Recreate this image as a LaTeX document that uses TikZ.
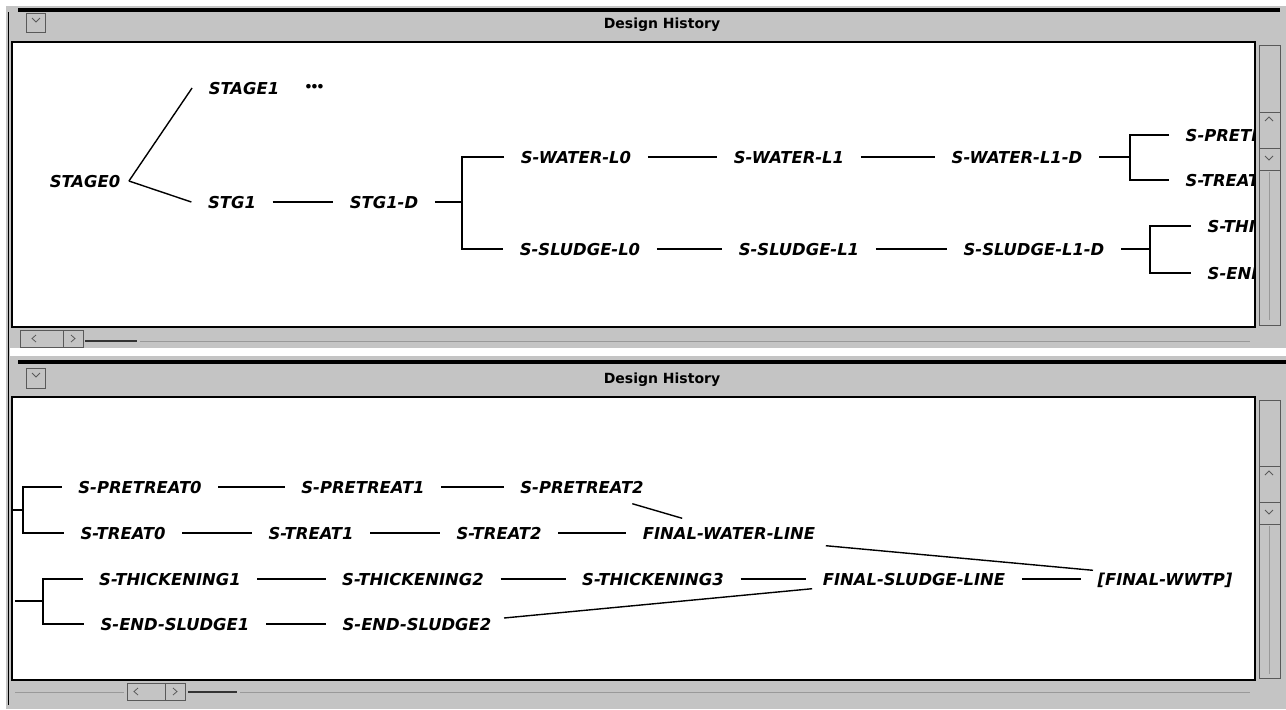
\documentclass[tikz,border=0pt]{standalone}
\usepackage{fontspec}
\setmainfont{DejaVu Sans}

\begin{document}
\begin{tikzpicture}[x=0.5pt, y=-0.5pt, line width=0.7pt,
  lbl/.style={font=\fontsize{8.2}{10}\selectfont\bfseries\itshape, inner xsep=8pt, inner ysep=3pt, text height=6pt, text depth=0pt},
  ttl/.style={font=\fontsize{7}{8}\selectfont\bfseries},
  pane/.style={draw=black, line width=0.6pt, fill=white},
  bar/.style={draw=black!65, line width=0.4pt},
  thumb/.style={draw=black!80, line width=1.3pt}]
  \definecolor{wingray}{RGB}{196,196,196}
  \useasboundingbox (0,0) rectangle (1286,709);
  \fill[wingray] (6,6) rectangle (1286,709);
  \fill[white] (10,348) rectangle (1286,356);
  \draw[line width=1.6pt] (18,10) -- (1280,10);
  \draw[line width=1.8pt] (18,362) -- (1286,362);
  \draw[line width=0.5pt] (8,12) -- (8,705);
  % title bars
  \node[ttl] (title1) at (662,25) {Design History};
  \node[ttl] (title2) at (662,380) {Design History};
  \draw[bar] (26,13) rectangle (45,32);
  \draw[bar] (32,18) -- (36,22) -- (40,18);
  \draw[bar] (26,368) rectangle (45,388);
  \draw[bar] (32,373) -- (36,377) -- (40,373);
  % panes
  \draw[pane] (12,42) rectangle (1255,327);
  \draw[pane] (12,397) rectangle (1255,680);
  % scroll bars
  \draw[bar] (20,330) rectangle (83,347);
  \draw[bar] (63,330) -- (63,347);
  \draw[bar] (36,335) -- (32,338.5) -- (36,342);
  \draw[bar] (71,335) -- (75,338.5) -- (71,342);
  \draw[thumb] (85,341) -- (137,341);
  \draw[bar, draw=black!40] (140,341) -- (1250,341);
  \draw[bar] (127,683) rectangle (185,700);
  \draw[bar] (165,683) -- (165,700);
  \draw[bar] (138,688) -- (134,691.5) -- (138,695);
  \draw[bar] (173,688) -- (177,691.5) -- (173,695);
  \draw[thumb] (188,692) -- (237,692);
  \draw[bar, draw=black!40] (240,692) -- (1250,692);
  \draw[bar, draw=black!40] (15,692) -- (124,692);
  \draw[bar] (1259,45) rectangle (1280,325);
  \draw[bar] (1259,112) -- (1280,112);
  \draw[bar] (1259,148) -- (1280,148);
  \draw[bar] (1259,170) -- (1280,170);
  \draw[bar] (1265,121) -- (1269,117) -- (1273,121);
  \draw[bar] (1265,156) -- (1269,160) -- (1273,156);
  \draw[bar, draw=black!40] (1269,172) -- (1269,320);
  \draw[bar] (1259,400) rectangle (1280,678);
  \draw[bar] (1259,466) -- (1280,466);
  \draw[bar] (1259,502) -- (1280,502);
  \draw[bar] (1259,524) -- (1280,524);
  \draw[bar] (1265,475) -- (1269,471) -- (1273,475);
  \draw[bar] (1265,510) -- (1269,514) -- (1273,510);
  \draw[bar, draw=black!40] (1269,526) -- (1269,674);
  % upper history
  \begin{scope}
    \clip (12,42) rectangle (1255,327);
    \node[lbl, inner xsep=4pt] (stage0) at (85,181) {STAGE0};
    \node[lbl] (stage1) at (244,88) {STAGE1};
    \node[font=\fontsize{6.5}{7}\selectfont\bfseries, inner sep=0pt] (more) at (315,88) {\kern-0.5pt•\kern-1.2pt•\kern-1.2pt•};
    \node[lbl] (stg1) at (232,202) {STG1};
    \node[lbl] (stg1d) at (384,202) {STG1-D};
    \node[lbl] (water0) at (576,157) {S-WATER-L0};
    \node[lbl] (water1) at (789,157) {S-WATER-L1};
    \node[lbl] (water1d) at (1017,157) {S-WATER-L1-D};
    \node[lbl] (sludge0) at (580,249) {S-SLUDGE-L0};
    \node[lbl] (sludge1) at (799,249) {S-SLUDGE-L1};
    \node[lbl] (sludge1d) at (1034,249) {S-SLUDGE-L1-D};
    \node[lbl, anchor=west] (tpret) at (1169,135) {S-PRETREAT0};
    \node[lbl, anchor=west] (ttreat) at (1169,180) {S-TREAT0};
    \node[lbl, anchor=west] (tthick) at (1191,226) {S-THICKENING1};
    \node[lbl, anchor=west] (tend) at (1191,273) {S-END-SLUDGE1};
    \coordinate (splitA) at (462,202);
    \coordinate (splitB) at (1130,157);
    \coordinate (splitC) at (1150,249);
    \draw (stage0.east) -- (stage1.west);
    \draw (stage0.east) -- (stg1.west);
    \draw (stg1) -- (stg1d);
    \draw (stg1d.east) -- (splitA);
    \draw (water0.west) -| (splitA) |- (sludge0.west);
    \draw (water0) -- (water1);
    \draw (water1) -- (water1d);
    \draw (water1d.east) -- (splitB);
    \draw (tpret.west) -| (splitB) |- (ttreat.west);
    \draw (sludge0) -- (sludge1);
    \draw (sludge1) -- (sludge1d);
    \draw (sludge1d.east) -- (splitC);
    \draw (tthick.west) -| (splitC) |- (tend.west);
  \end{scope}
  % lower history
  \begin{scope}
    \clip (12,397) rectangle (1255,680);
    \node[lbl] (pret0) at (140,487) {S-PRETREAT0};
    \node[lbl] (pret1) at (363,487) {S-PRETREAT1};
    \node[lbl] (pret2) at (582,487) {S-PRETREAT2};
    \node[lbl] (treat0) at (123,533) {S-TREAT0};
    \node[lbl] (treat1) at (311,533) {S-TREAT1};
    \node[lbl] (treat2) at (499,533) {S-TREAT2};
    \node[lbl] (fwater) at (729,533) {FINAL-WATER-LINE};
    \node[lbl] (thick1) at (170,579) {S-THICKENING1};
    \node[lbl] (thick2) at (413,579) {S-THICKENING2};
    \node[lbl] (thick3) at (653,579) {S-THICKENING3};
    \node[lbl] (fsludge) at (914,579) {FINAL-SLUDGE-LINE};
    \node[lbl] (wwtp) at (1165,579) {[FINAL-WWTP]};
    \node[lbl] (send1) at (175,624) {S-END-SLUDGE1};
    \node[lbl] (send2) at (417,624) {S-END-SLUDGE2};
    \coordinate (edgeA) at (12,510);
    \coordinate (splitD) at (23,510);
    \coordinate (edgeB) at (15,601);
    \coordinate (splitE) at (43,601);
    \draw (edgeA) -- (splitD);
    \draw (pret0.west) -| (splitD) |- (treat0.west);
    \draw (edgeB) -- (splitE);
    \draw (thick1.west) -| (splitE) |- (send1.west);
    \draw (pret0) -- (pret1);
    \draw (pret1) -- (pret2);
    \draw (treat0) -- (treat1);
    \draw (treat1) -- (treat2);
    \draw (treat2) -- (fwater);
    \draw (thick1) -- (thick2);
    \draw (thick2) -- (thick3);
    \draw (thick3) -- (fsludge);
    \draw (fsludge) -- (wwtp);
    \draw (send1) -- (send2);
    \draw ([xshift=-14pt,yshift=-2pt]pret2.south east) -- ([xshift=28pt,yshift=1pt]fwater.north west);
    \draw ([xshift=-3pt]fwater.south east) -- ([xshift=6pt,yshift=-2pt]wwtp.north west);
    \draw ([shift={(-2pt,3pt)}]send2.east) -- ([shift={(3pt,1.5pt)}]fsludge.south west);
  \end{scope}
\end{tikzpicture}
\end{document}
